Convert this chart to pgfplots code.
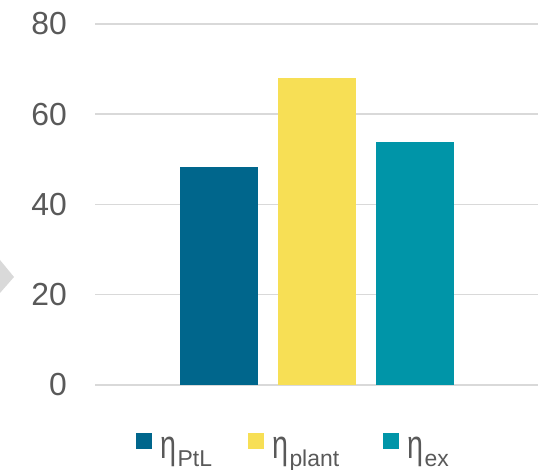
\documentclass[border=0pt]{standalone}
\usepackage{fontspec}
\setmainfont{Liberation Sans}
\usepackage{graphicx}
\usepackage{pgfplots}
\pgfplotsset{compat=1.18}
\definecolor{c1}{HTML}{00668C}
\definecolor{c2}{HTML}{F7DF55}
\definecolor{c3}{HTML}{0095A8}
\definecolor{gridc}{HTML}{D9D9D9}
\definecolor{txt}{HTML}{595959}
\newcommand{\leg}[1]{\scalebox{0.72}[1]{\fontsize{40}{40}\selectfont η}\hspace{1.5bp}\raisebox{-8bp}{\fontsize{23}{23}\selectfont #1}}
\begin{document}
\begin{tikzpicture}
\path[use as bounding box] (0,0) rectangle (538bp,470bp);
\fill[gridc] (0,210bp) -- (14bp,193bp) -- (0,177bp) -- cycle;
\begin{axis}[
 at={(95bp,85bp)}, anchor=south west,
 scale only axis, width=443bp, height=361bp,
 xmin=-1.2653, xmax=3.2551, ymin=0, ymax=80,
 axis line style={draw=none},
 xtick=\empty, ytick={0,20,40,60,80},
 major tick length=0pt,
 ymajorgrids, grid style={gridc, line width=1.5bp},
 yticklabel style={font=\fontsize{32}{32}\selectfont, text=txt, anchor=east, inner sep=0pt, xshift=-28bp},
 /pgf/number format/assume math mode=true,
 ybar, bar width=78bp, bar shift=0pt,
 legend columns=3,
 legend style={draw=none, fill=none, inner sep=0pt, at={(axis description cs:0.09255,-0.170)}, anchor=west, text=txt,
   nodes={inner sep=0pt},
   /tikz/every odd column/.append style={column sep=8bp},
   /tikz/column 2/.append style={column sep=36bp},
   /tikz/column 4/.append style={column sep=44bp}},
 legend image code/.code={\fill[#1] (0bp,-1bp) rectangle (16bp,15bp);},
]
\addplot[fill=c1, draw=none] coordinates {(0,48.3)};
\addplot[fill=c2, draw=none] coordinates {(1,68.0)};
\addplot[fill=c3, draw=none] coordinates {(2,53.9)};
\legend{\leg{PtL},\leg{plant},\leg{ex}}
\end{axis}
\end{tikzpicture}
\end{document}
